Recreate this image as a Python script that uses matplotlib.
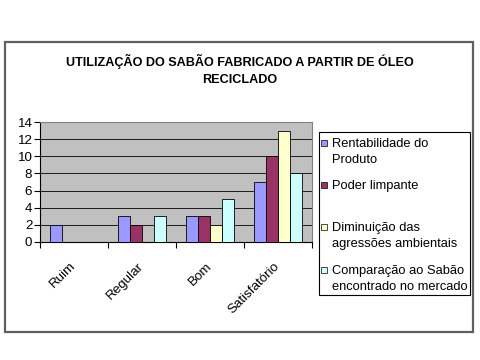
import numpy as np
import matplotlib.pyplot as plt
from matplotlib.patches import Rectangle

plt.rcParams['font.family'] = ['Liberation Sans', 'DejaVu Sans']

categorias = ['Ruim', 'Regular', 'Bom', 'Satisfatório']
series = [
    'Rentabilidade do\nProduto',
    'Poder limpante',
    'Diminuição das\nagressões ambientais',
    'Comparação ao Sabão\nencontrado no mercado',
]
rentabilidade = [2, 3, 3, 7]
poder_limpante = [0, 2, 3, 10]
diminuicao = [0, 0, 2, 13]
comparacao = [0, 3, 5, 8]
valores = [rentabilidade, poder_limpante, diminuicao, comparacao]
cores = ['#9999FF', '#993366', '#FFFFCC', '#CCFFFF']

W, H = 480, 360


def fx(px):
    return px / W


def fy(py):
    return 1 - py / H


fig = plt.figure(figsize=(4.8, 3.6), dpi=100)
fig.patch.set_facecolor('white')

# moldura externa
fig.patches.append(Rectangle((fx(5), fy(332)), 468 / W, 290 / H,
                             transform=fig.transFigure, fill=False,
                             edgecolor='#606060', linewidth=1.6))

ax = fig.add_axes([fx(40), fy(242), 272 / W, 120 / H])
ax.set_facecolor('#C0C0C0')

x = np.arange(len(categorias))
largura = 0.18
barras = []
for i, (vals, cor) in enumerate(zip(valores, cores)):
    b = ax.bar(x + (i - 1.5) * largura, vals, largura, color=cor,
               edgecolor='black', linewidth=0.6, zorder=3)
    barras.append(b)

ax.set_xlim(-0.5, len(categorias) - 0.5)
ax.set_ylim(0, 14)
ax.set_yticks(range(0, 15, 2))
ax.yaxis.grid(True, color='black', linewidth=0.6, zorder=1)
ax.set_xticks(x)
ax.set_xticklabels(categorias, rotation=45, ha='right', va='center',
                   rotation_mode='anchor', fontsize=9.6)
ax.set_xticks(np.arange(-0.5, len(categorias), 1), minor=True)
ax.tick_params(axis='x', which='major', length=0, pad=16)
ax.tick_params(axis='x', which='minor', length=4, width=0.8, direction='out')
ax.tick_params(axis='y', length=4, width=0.8, labelsize=9.6, pad=1.5)
for lado in ['top', 'right']:
    ax.spines[lado].set_color('#808080')

fig.text(0.5, fy(70), 'UTILIZAÇÃO DO SABÃO FABRICADO A PARTIR DE ÓLEO\nRECICLADO',
         ha='center', va='center', fontsize=9.1, fontweight='bold', linespacing=1.45)

# legenda
fig.patches.append(Rectangle((fx(319), fy(295)), 151 / W, 163 / H,
                             transform=fig.transFigure, facecolor='white',
                             edgecolor='black', linewidth=0.8))
linhas_y = [143, 185, 227, 270]
for barra, rotulo, yl in zip(barras, series, linhas_y):
    cor = barra.patches[0].get_facecolor()
    fig.patches.append(Rectangle((fx(321), fy(yl + 3)), 6 / W, 6 / H,
                                 transform=fig.transFigure, facecolor=cor,
                                 edgecolor='black', linewidth=0.5))
    fig.text(fx(332), fy(yl - 5), rotulo, ha='left', va='top',
             fontsize=9.3, linespacing=1.4)

fig.savefig('out.png', dpi=100, facecolor='white')
